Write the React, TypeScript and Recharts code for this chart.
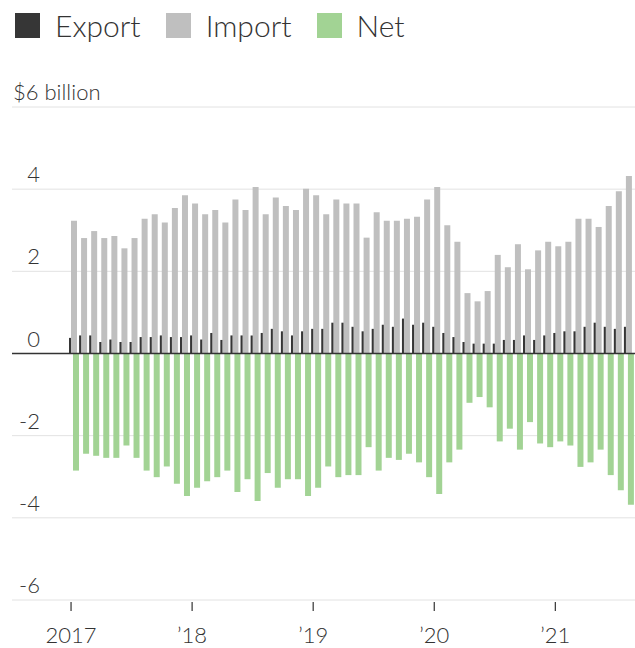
import { BarChart, Bar, XAxis, YAxis, CartesianGrid, ReferenceLine } from "recharts";

// monthly, Jan 2017 .. Aug 2021 ($ billion)
const months: string[] = Array.from(
  { length: 56 },
  (_, i) => `${2017 + Math.floor(i / 12)}-${String((i % 12) + 1).padStart(2, "0")}`
);

const exportVals: number[] = [
  0.38, 0.44, 0.44, 0.28, 0.34, 0.28, 0.28, 0.4, 0.4, 0.44, 0.4, 0.4,
  0.44, 0.34, 0.5, 0.33, 0.44, 0.44, 0.44, 0.5, 0.6, 0.54, 0.44, 0.54,
  0.6, 0.6, 0.75, 0.75, 0.65, 0.54, 0.6, 0.7, 0.65, 0.85, 0.7, 0.75,
  0.65, 0.5, 0.4, 0.28, 0.24, 0.24, 0.24, 0.33, 0.33, 0.44, 0.33, 0.44,
  0.5, 0.54, 0.54, 0.65, 0.75, 0.65, 0.6, 0.65,
];

const importVals: number[] = [
  3.23, 2.81, 2.98, 2.81, 2.86, 2.56, 2.81, 3.28, 3.39, 3.19, 3.54, 3.85,
  3.65, 3.39, 3.49, 3.19, 3.75, 3.49, 4.05, 3.39, 3.8, 3.59, 3.49, 4.01,
  3.85, 3.39, 3.75, 3.65, 3.65, 2.82, 3.44, 3.23, 3.23, 3.28, 3.33, 3.75,
  4.05, 3.12, 2.72, 1.47, 1.27, 1.52, 2.4, 2.1, 2.66, 2.05, 2.51, 2.72,
  2.61, 2.72, 3.28, 3.28, 3.08, 3.59, 3.95, 4.32,
];

const netVals: number[] = [
  -2.85, -2.44, -2.49, -2.54, -2.54, -2.24, -2.54, -2.85, -3.01, -2.75, -3.17, -3.47,
  -3.27, -3.11, -3.01, -2.85, -3.37, -3.06, -3.59, -2.91, -3.27, -3.06, -3.06, -3.47,
  -3.27, -2.75, -3.01, -2.96, -2.96, -2.28, -2.85, -2.54, -2.59, -2.44, -2.65, -3.01,
  -3.42, -2.65, -2.34, -1.2, -1.06, -1.31, -2.14, -1.83, -2.34, -1.67, -2.19, -2.28,
  -2.14, -2.24, -2.76, -2.65, -2.34, -2.96, -3.33, -3.68,
];

const yTicks: number[] = [-6, -4, -2, 0, 2, 4, 6];

const yearLabels: Record<string, string> = {
  "2017-01": "2017",
  "2018-01": "\u201918",
  "2019-01": "\u201919",
  "2020-01": "\u201920",
  "2021-01": "\u201921",
};

const data = months.map((m, i) => ({
  month: m,
  export: exportVals[i],
  import: importVals[i],
  net: netVals[i],
}));

const FONT = "Lato, 'Noto Sans', sans-serif";
const TEXT = "#333";
const C_EXPORT = "#363636";
const C_IMPORT = "#bfbfbf";
const C_NET = "#a2d394";

const legendItems = [
  { name: "Export", color: C_EXPORT },
  { name: "Import", color: C_IMPORT },
  { name: "Net", color: C_NET },
];

function YTick(props: any) {
  const { y, payload } = props;
  const v = payload.value;
  if (v === 6) {
    return (
      <text x={13} y={y - 7} fontSize={22} fontWeight={300} fill={TEXT} fontFamily={FONT}>
        $6 billion
      </text>
    );
  }
  return (
    <text x={40} y={y - 7} textAnchor="end" fontSize={22} fontWeight={300} fill={TEXT} fontFamily={FONT}>
      {v}
    </text>
  );
}

function XTick(props: any) {
  const { x, y, payload } = props;
  const label = yearLabels[payload.value];
  if (!label) return <g />;
  const tx = x - 3;
  return (
    <g>
      <line x1={tx} x2={tx} y1={y + 2} y2={y + 11} stroke={TEXT} strokeWidth={1.2} />
      <text x={tx} y={y + 43} textAnchor="middle" fontSize={22} fontWeight={300} fill={TEXT} fontFamily={FONT}>
        {label}
      </text>
    </g>
  );
}

export default function App() {
  return (
    <div
      style={{
        position: "absolute",
        left: 0,
        top: 0,
        width: 635,
        height: 648,
        overflow: "hidden",
        background: "#fff",
        fontFamily: FONT,
      }}
    >
      <BarChart
        width={635}
        height={648}
        data={data}
        margin={{ top: 107, right: 0, bottom: 8, left: 0 }}
        barSize={6}
        barGap={-4}
      >
        <CartesianGrid vertical={false} stroke="#e2e2e2" />
        <XAxis
          dataKey="month"
          interval={0}
          height={40}
          axisLine={false}
          tickLine={false}
          tickSize={0}
          tickMargin={0}
          padding={{ left: 57, right: 1 }}
          tick={<XTick />}
        />
        <YAxis
          type="number"
          domain={[-6, 6]}
          ticks={yTicks}
          width={12}
          axisLine={false}
          tickLine={false}
          tick={<YTick />}
        />
        <Bar dataKey="export" fill={C_EXPORT} isAnimationActive={false} />
        <Bar dataKey="import" fill={C_IMPORT} isAnimationActive={false} />
        <Bar dataKey="net" fill={C_NET} isAnimationActive={false} />
        <ReferenceLine y={0} stroke="#333" strokeWidth={1.6} />
      </BarChart>
      <div
        style={{
          position: "absolute",
          left: 15,
          top: 13,
          display: "flex",
          alignItems: "center",
          fontSize: 30,
          fontWeight: 300,
          lineHeight: "25px",
          color: TEXT,
        }}
      >
        {legendItems.map((it) => (
          <div key={it.name} style={{ display: "flex", alignItems: "center", marginRight: 25 }}>
            <span
              style={{
                display: "inline-block",
                width: 25,
                height: 25,
                background: it.color,
                marginRight: 15,
              }}
            />
            <span>{it.name}</span>
          </div>
        ))}
      </div>
    </div>
  );
}
